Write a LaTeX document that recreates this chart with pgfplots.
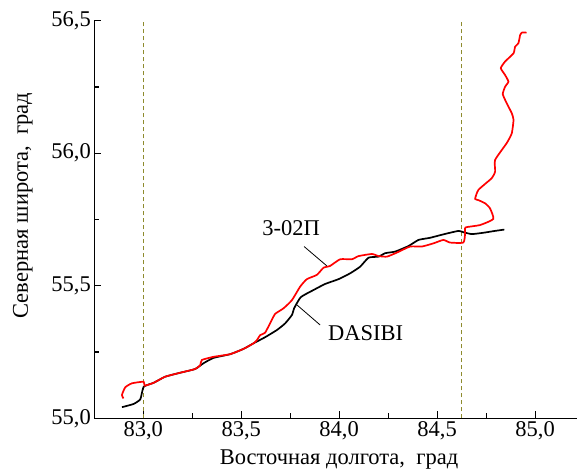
\documentclass[border=0pt]{standalone}
\usepackage{fontspec}
\setmainfont{Liberation Serif}
\usepackage{pgfplots}
\pgfplotsset{compat=1.18}
\definecolor{guide}{HTML}{8E8B2E}

\begin{document}
\begin{tikzpicture}[font=\fontsize{22.5}{26}\selectfont]
\useasboundingbox (-94.3pt,-53.7pt) rectangle (482.7pt,418.3pt);
\begin{axis}[
    scale only axis,
    width=482.7pt, height=397.6pt,
    xmin=82.75, xmax=85.214,
    ymin=55, ymax=56.5,
    axis lines=left,
    axis line style={-, line width=1.3pt},
    tick style={black, line width=1.1pt},
    tick align=inside,
    major tick length=7pt,
    minor tick length=5pt,
    xtick={83,83.5,84,84.5,85},
    ytick={55,55.5,56,56.5},
    minor x tick num=1,
    minor y tick num=1,
    ticklabel style={font=\fontsize{22.5}{26}\selectfont},
    label style={font=\fontsize{22.5}{26}\selectfont},
    /pgf/number format/.cd, fixed, fixed zerofill, precision=1, use comma, assume math mode=true,
    /pgfplots/.cd,
    xlabel={Восточная долгота, \ град},
    ylabel={Северная широта, \ град},
    xlabel style={at={(axis description cs:0.507,-0.1165)}, anchor=base},
    ylabel style={at={(axis description cs:-0.148,0.535)}, anchor=center},
    clip=false,
]
% guide lines
\addplot[guide, line width=0.9pt, dash pattern=on 4pt off 3pt] coordinates {(83.0,55) (83.0,56.5)};
\addplot[guide, line width=0.9pt, dash pattern=on 4pt off 3pt] coordinates {(84.624,55) (84.624,56.5)};

% DASIBI
\addplot[black, line width=1.7pt, smooth, tension=0.3] coordinates {
(82.891,55.042) (82.950,55.054) (82.985,55.072) (83.002,55.119) (83.053,55.134)
(83.112,55.157) (83.189,55.172) (83.265,55.186) (83.308,55.208) (83.359,55.228)
(83.444,55.242) (83.512,55.262) (83.563,55.283) (83.622,55.306) (83.682,55.333)
(83.724,55.358) (83.759,55.390) (83.770,55.415) (83.804,55.457) (83.869,55.484)
(83.929,55.507) (83.997,55.525) (84.056,55.547) (84.107,55.572) (84.150,55.606)
(84.201,55.610) (84.235,55.623) (84.286,55.629) (84.354,55.650) (84.405,55.673)
(84.464,55.681) (84.532,55.694) (84.609,55.707) (84.634,55.702) (84.677,55.695)
(84.736,55.700) (84.787,55.706) (84.843,55.712)
};

% 3-02P
\addplot[red, line width=1.7pt, smooth, tension=0.3] coordinates {
(82.899,55.075) (82.891,55.088) (82.908,55.117) (82.942,55.132) (83.002,55.138)
(83.007,55.123) (83.053,55.134) (83.112,55.157) (83.189,55.172) (83.265,55.186)
(83.291,55.201) (83.299,55.220) (83.359,55.232) (83.444,55.242) (83.512,55.262)
(83.563,55.283) (83.580,55.295) (83.597,55.314) (83.622,55.323) (83.656,55.371)
(83.673,55.394) (83.716,55.415) (83.759,55.446) (83.801,55.497) (83.835,55.525)
(83.886,55.541) (83.920,55.568) (83.954,55.575) (84.005,55.600) (84.065,55.600)
(84.099,55.612) (84.167,55.620) (84.201,55.612) (84.244,55.610) (84.294,55.625)
(84.362,55.648) (84.422,55.648) (84.481,55.660) (84.532,55.673) (84.566,55.663)
(84.634,55.663) (84.643,55.698) (84.645,55.720) (84.719,55.729) (84.787,55.752)
(84.770,55.792) (84.745,55.811) (84.711,55.823) (84.694,55.828) (84.711,55.862)
(84.779,55.906) (84.796,55.931) (84.796,55.975) (84.855,56.038) (84.881,56.075)
(84.890,56.126) (84.881,56.151) (84.855,56.189) (84.835,56.223) (84.847,56.251)
(84.864,56.270) (84.847,56.295) (84.825,56.321) (84.847,56.346) (84.890,56.377)
(84.898,56.402) (84.915,56.415) (84.924,56.447) (84.932,56.455) (84.957,56.455)
};

% labels
\draw[black, line width=0.8pt] (axis cs:83.821,55.648) -- (axis cs:83.937,55.575);
\draw[black, line width=0.8pt] (axis cs:83.784,55.428) -- (axis cs:83.903,55.352);
\node at (axis cs:83.755,55.718) {3-02П};
\node at (axis cs:84.135,55.320) {DASIBI};
\end{axis}
\end{tikzpicture}
\end{document}
